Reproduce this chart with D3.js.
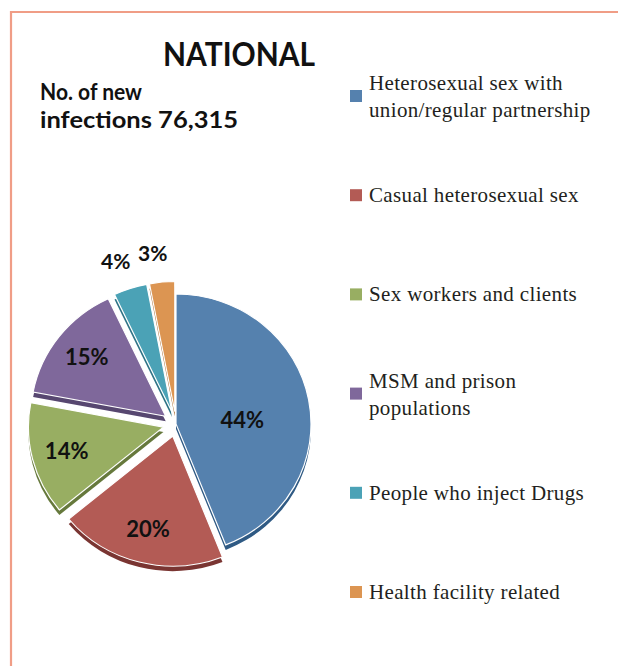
<!DOCTYPE html>
<html>
<head>
<meta charset="utf-8">
<script src="https://cdn.jsdelivr.net/npm/d3@7"></script>
<style>
  body { margin: 0; background: #fff; }
  svg { display: block; }
  text { font-variant-ligatures: none; }
</style>
</head>
<body>
<svg id="chart" width="618" height="666"></svg>
<script>
// modes of transmission, share of new infections (%)
const categories = [
  "Heterosexual sex with union/regular partnership",
  "Casual heterosexual sex",
  "Sex workers and clients",
  "MSM and prison populations",
  "People who inject Drugs",
  "Health facility related"
];
const legendLines = [
  ["Heterosexual sex with", "union/regular partnership"],
  ["Casual heterosexual sex"],
  ["Sex workers and clients"],
  ["MSM and prison", "populations"],
  ["People who inject Drugs"],
  ["Health facility related"]
];
const shares = [44, 20, 14, 15, 4, 3];
const topColors = ["#5581ae", "#b35b55", "#98ae62", "#7f689b", "#4ba2b6", "#dc9552"];
const sideColors = ["#2f5a84", "#7a3532", "#66793c", "#574770", "#2f7486", "#a5672c"];

const svg = d3.select("#chart");
const width = 618, height = 666;

// page frame
svg.append("path")
  .attr("d", `M11,${height} V12 H${width}`)
  .attr("fill", "none")
  .attr("stroke", "#f09d86")
  .attr("stroke-width", 2.2);

svg.append("text")
  .attr("x", 239)
  .attr("y", 66)
  .attr("text-anchor", "middle")
  .attr("textLength", 152)
  .attr("lengthAdjust", "spacingAndGlyphs")
  .style("font", "bold 32px Lato, 'Open Sans', sans-serif")
  .attr("fill", "#111")
  .text("NATIONAL");

const sub = svg.append("text")
  .style("font", "bold 23px Lato, 'Open Sans', sans-serif")
  .attr("fill", "#111");
sub.append("tspan").attr("x", 40).attr("y", 100)
  .attr("textLength", 102).attr("lengthAdjust", "spacingAndGlyphs")
  .text("No. of new");
sub.append("tspan").attr("x", 40).attr("y", 128)
  .attr("textLength", 198).attr("lengthAdjust", "spacingAndGlyphs")
  .text("infections 76,315");

// pie (slightly tilted, exploded)
const cx = 176, cy = 424, r = 135, ky = 0.963, depth = 5;
const explode = i => i === 0 ? 0 : 13;

const pie = d3.pie().sort(null).value(d => d);
const arcs = pie(shares);
const arc = d3.arc().innerRadius(0).outerRadius(r);

const offset = (d, i) => {
  const a = (d.startAngle + d.endAngle) / 2;
  return [explode(i) * Math.sin(a), -explode(i) * Math.cos(a)];
};

const pieG = svg.append("g")
  .attr("transform", `translate(${cx},${cy}) scale(1,${ky})`);

pieG.append("g").selectAll("path")
  .data(arcs)
  .join("path")
  .attr("transform", (d, i) => {
    const o = offset(d, i);
    return `translate(${o[0]},${o[1] + depth / ky})`;
  })
  .attr("d", arc)
  .attr("fill", (d, i) => sideColors[i]);

pieG.append("g").selectAll("path")
  .data(arcs)
  .join("path")
  .attr("transform", (d, i) => {
    const o = offset(d, i);
    return `translate(${o[0]},${o[1]})`;
  })
  .attr("d", arc)
  .attr("fill", (d, i) => topColors[i])
  .attr("stroke", "#fff")
  .attr("stroke-width", 1.2);

// percentage labels
svg.append("g").selectAll("text")
  .data(arcs)
  .join("text")
  .attr("transform", (d, i) => {
    const a = (d.startAngle + d.endAngle) / 2;
    const small = d.data < 5;
    let f = d.data >= 40 ? 0.5 : 0.74;
    if (small) f = 1.18;
    const dist = explode(i) + r * f;
    const x = cx + dist * Math.sin(a) - (small ? 7 : 0);
    const y = cy - dist * Math.cos(a) * ky + (d.data >= 40 ? 8 : 0) - (small ? 5 : 0);
    return `translate(${x},${y})`;
  })
  .attr("text-anchor", "middle")
  .attr("dy", "0.36em")
  .style("font", d => `bold ${d.data < 5 ? 21 : 22}px Lato, 'Open Sans', sans-serif`)
  .attr("fill", "#111")
  .text(d => d.data + "%");

// legend
const legendY = d3.scalePoint()
  .domain(categories)
  .range([96, 592]);

const item = svg.append("g").selectAll("g")
  .data(categories)
  .join("g")
  .attr("transform", d => `translate(350,${legendY(d)})`);

item.append("rect")
  .attr("x", 0)
  .attr("y", -6)
  .attr("width", 12)
  .attr("height", 12)
  .attr("fill", (d, i) => topColors[i]);

item.append("text")
  .style("font", "21px 'Liberation Serif', 'DejaVu Serif', serif")
  .style("letter-spacing", "0.35px")
  .attr("fill", "#231f20")
  .selectAll("tspan")
  .data((d, i) => legendLines[i].map((t, j, arr) => ({ t, j, n: arr.length })))
  .join("tspan")
  .attr("x", 19)
  .attr("y", d => d.n === 1 ? 7 : (d.j === 0 ? -6 : 21))
  .text(d => d.t);
</script>
</body>
</html>
